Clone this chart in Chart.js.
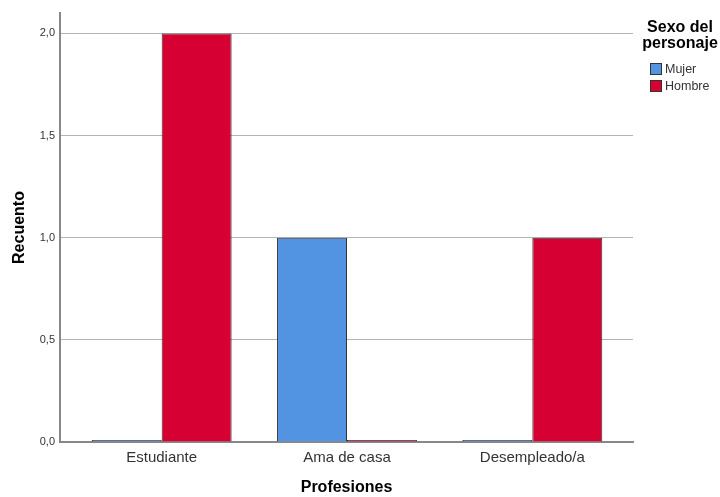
<!DOCTYPE html>
<html>
<head>
<meta charset="utf-8">
<script src="https://cdn.jsdelivr.net/npm/chart.js@4"></script>
<style>
  html, body { margin: 0; padding: 0; background: #fff; }
  #wrap { position: relative; width: 720px; height: 497px; }
</style>
</head>
<body>
<div id="wrap"><canvas id="chart" width="720" height="497"></canvas></div>
<script>
var categories = ['Estudiante', 'Ama de casa', 'Desempleado/a'];
var mujer = [0, 1, 0];
var hombre = [2, 0, 1];
var yTicks = [0, 0.5, 1, 1.5, 2];
var legendTitle = ['Sexo del', 'personaje'];

// leyenda dibujada a mano a la derecha
var sideLegend = {
    id: 'sideLegend',
    afterDraw: function (chart) {
        var c = chart.ctx;
        c.save();
        c.fillStyle = '#000';
        c.font = 'bold 16px "Liberation Sans", Arial, sans-serif';
        c.textAlign = 'center';
        c.textBaseline = 'middle';
        legendTitle.forEach(function (t, i) {
            c.fillText(t, 680, 28 + i * 16);
        });
        c.textAlign = 'left';
        c.font = '12.5px "Liberation Sans", Arial, sans-serif';
        chart.data.datasets.forEach(function (ds, i) {
            var y = 63 + i * 17;
            c.fillStyle = ds.backgroundColor;
            c.fillRect(650, y, 12, 12);
            c.strokeStyle = '#333';
            c.lineWidth = 1;
            c.strokeRect(650.5, y + 0.5, 11, 11);
            c.fillStyle = '#333';
            c.fillText(ds.label, 665, y + 7);
        });
        c.restore();
    }
};

// las categorías ocupan algo menos que el área del gráfico (como en SPSS)
var insetX = {
    id: 'insetX',
    afterLayout: function (chart) {
        var s = chart.scales.x;
        s._startPixel = s.left + 9;
        s._endPixel = s.right - 8;
        s._length = s._endPixel - s._startPixel;
    }
};

new Chart(document.getElementById('chart').getContext('2d'), {
    type: 'bar',
    data: {
        labels: categories,
        datasets: [
            { label: 'Mujer', data: mujer, backgroundColor: '#5294e2', borderColor: '#333', borderWidth: 1, minBarLength: 2 },
            { label: 'Hombre', data: hombre, backgroundColor: '#d70032', borderColor: '#333', borderWidth: 1, minBarLength: 2 }
        ]
    },
    options: {
        responsive: false,
        animation: false,
        layout: { padding: { top: 13, right: 87, left: 10, bottom: 0 } },
        datasets: { bar: { categoryPercentage: 0.755, barPercentage: 1 } },
        plugins: {
            legend: { display: false },
            tooltip: { enabled: false }
        },
        scales: {
            x: {
                grid: { display: false, drawTicks: false },
                border: { display: true, color: '#888', width: 2 },
                ticks: {
                    color: '#333',
                    padding: 7,
                    font: { family: '"Liberation Sans", Arial, sans-serif', size: 15 }
                },
                title: {
                    display: true,
                    text: 'Profesiones',
                    color: '#000',
                    padding: { top: 10, bottom: 0 },
                    font: { family: '"Liberation Sans", Arial, sans-serif', size: 16, weight: 'bold' }
                },
                afterFit: function (s) { s.height = 55; }
            },
            y: {
                min: 0,
                max: 2.1,
                afterBuildTicks: function (s) {
                    s.ticks = yTicks.map(function (v) { return { value: v }; });
                },
                grid: { color: '#b4b4b4', drawTicks: false, lineWidth: 1 },
                border: { display: true, color: '#888', width: 2 },
                ticks: {
                    color: '#333',
                    padding: 5,
                    font: { family: '"Liberation Sans", Arial, sans-serif', size: 11 },
                    callback: function (v) { return Number(v).toFixed(1).replace('.', ','); }
                },
                title: {
                    display: true,
                    text: 'Recuento',
                    color: '#000',
                    padding: { top: 0, bottom: 6 },
                    font: { family: '"Liberation Sans", Arial, sans-serif', size: 16, weight: 'bold' }
                },
                afterFit: function (s) { s.width = 50; }
            }
        }
    },
    plugins: [sideLegend, insetX]
});
</script>
</body>
</html>
